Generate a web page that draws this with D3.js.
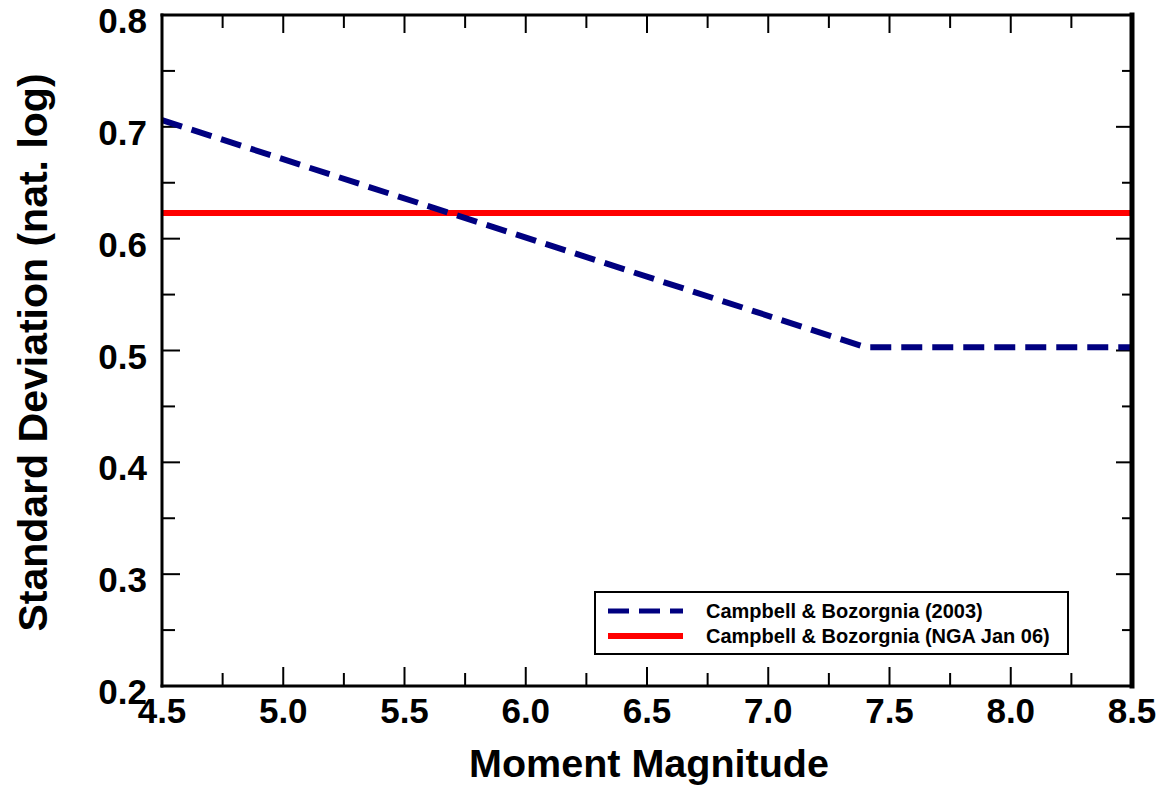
<!DOCTYPE html>
<html>
<head>
<meta charset="utf-8">
<script src="https://cdn.jsdelivr.net/npm/d3@7"></script>
<style>
  html, body { margin: 0; padding: 0; background: #fff; }
  svg { display: block; font-family: "Liberation Sans", Arial, sans-serif; font-weight: bold; }
</style>
</head>
<body>
<script>
// ---- Data ----
const cb2003M     = [4.5, 7.4, 8.5];
const cb2003Sigma = [0.706, 0.503, 0.503];
const cbNgaM      = [4.5, 8.5];
const cbNgaSigma  = [0.623, 0.623];
const xTickValues = [4.5, 5.0, 5.5, 6.0, 6.5, 7.0, 7.5, 8.0, 8.5];
const yTickValues = [0.2, 0.3, 0.4, 0.5, 0.6, 0.7, 0.8];
const xMinorTicks = [4.75, 5.25, 5.75, 6.25, 6.75, 7.25, 7.75, 8.25];
const yMinorTicks = [0.25, 0.35, 0.45, 0.55, 0.65, 0.75];
const seriesNames = ["Campbell & Bozorgnia (2003)", "Campbell & Bozorgnia (NGA Jan 06)"];
const xTitle = "Moment Magnitude";
const yTitle = "Standard Deviation (nat. log)";

const W = 1163, H = 787;
const L = 162, R = 1132, T = 15, B = 686;

const svg = d3.select("body").append("svg").attr("width", W).attr("height", H);

const x = d3.scaleLinear().domain([4.5, 8.5]).range([L, R]);
const y = d3.scaleLinear().domain([0.2, 0.8]).range([B, T]);

// ---- Ticks (inward) ----
const g = svg.append("g").attr("stroke", "#000").attr("stroke-width", 2);
xTickValues.forEach(v => {
  g.append("line").attr("x1", x(v)).attr("x2", x(v)).attr("y1", B).attr("y2", B - 19);
  g.append("line").attr("x1", x(v)).attr("x2", x(v)).attr("y1", T).attr("y2", T + 18);
});
xMinorTicks.forEach(v => {
  g.append("line").attr("x1", x(v)).attr("x2", x(v)).attr("y1", B).attr("y2", B - 13);
  g.append("line").attr("x1", x(v)).attr("x2", x(v)).attr("y1", T).attr("y2", T + 13);
});
yTickValues.forEach(v => {
  g.append("line").attr("x1", L).attr("x2", L + 18).attr("y1", y(v)).attr("y2", y(v));
  g.append("line").attr("x1", R).attr("x2", R - 16).attr("y1", y(v)).attr("y2", y(v));
});
yMinorTicks.forEach(v => {
  g.append("line").attr("x1", L).attr("x2", L + 13).attr("y1", y(v)).attr("y2", y(v));
  g.append("line").attr("x1", R).attr("x2", R - 10).attr("y1", y(v)).attr("y2", y(v));
});

// ---- Tick labels ----
svg.append("g").selectAll("text").data(xTickValues).join("text")
  .attr("x", d => x(d)).attr("y", B + 37)
  .attr("text-anchor", "middle").attr("font-size", 35).attr("fill", "#000")
  .text(d => d3.format(".1f")(d));
svg.append("g").selectAll("text").data(yTickValues).join("text")
  .attr("x", L - 15).attr("y", d => y(d) + 18)
  .attr("text-anchor", "end").attr("font-size", 35).attr("fill", "#000")
  .text(d => d3.format(".1f")(d));

// ---- Lines ----
const line = d3.line().x(d => x(d[0])).y(d => y(d[1]));
svg.append("path")
  .datum(cbNgaM.map((m, i) => [m, cbNgaSigma[i]]))
  .attr("d", line).attr("fill", "none").attr("stroke", "#ff0000").attr("stroke-width", 6);
svg.append("path")
  .datum(cb2003M.map((m, i) => [m, cb2003Sigma[i]]))
  .attr("d", line).attr("fill", "none").attr("stroke", "#000080").attr("stroke-width", 6)
  .attr("stroke-dasharray", "21,10");

// ---- Frame ----
const f = svg.append("g").attr("stroke", "#000").attr("stroke-linecap", "square");
f.append("line").attr("x1", L).attr("x2", R).attr("y1", T).attr("y2", T).attr("stroke-width", 3);
f.append("line").attr("x1", L).attr("x2", R).attr("y1", B).attr("y2", B).attr("stroke-width", 3);
f.append("line").attr("x1", L).attr("x2", L).attr("y1", T).attr("y2", B).attr("stroke-width", 3);
f.append("line").attr("x1", R).attr("x2", R).attr("y1", T).attr("y2", B).attr("stroke-width", 5);

// ---- Axis titles ----
svg.append("text").attr("x", (L + R) / 2 + 2).attr("y", 777)
  .attr("text-anchor", "middle").attr("font-size", 39.5).attr("fill", "#000").text(xTitle);
svg.append("text").attr("transform", `translate(47,${(T + B) / 2 + 2}) rotate(-90)`)
  .attr("text-anchor", "middle").attr("font-size", 41).attr("fill", "#000").text(yTitle);

// ---- Legend ----
const lg = svg.append("g");
lg.append("rect").attr("x", 595).attr("y", 592).attr("width", 473).attr("height", 62)
  .attr("fill", "#fff").attr("stroke", "#000").attr("stroke-width", 2);
const legendStyles = [
  { color: "#000080", width: 5, dash: "21,10" },
  { color: "#ff0000", width: 6, dash: null }
];
seriesNames.forEach((name, i) => {
  const yy = 611 + i * 25;
  lg.append("line").attr("x1", 608).attr("x2", 683).attr("y1", yy).attr("y2", yy)
    .attr("stroke", legendStyles[i].color).attr("stroke-width", legendStyles[i].width)
    .attr("stroke-dasharray", legendStyles[i].dash);
  lg.append("text").attr("x", 706).attr("y", yy + 7).attr("font-size", 20).attr("fill", "#000").text(name);
});
</script>
</body>
</html>
